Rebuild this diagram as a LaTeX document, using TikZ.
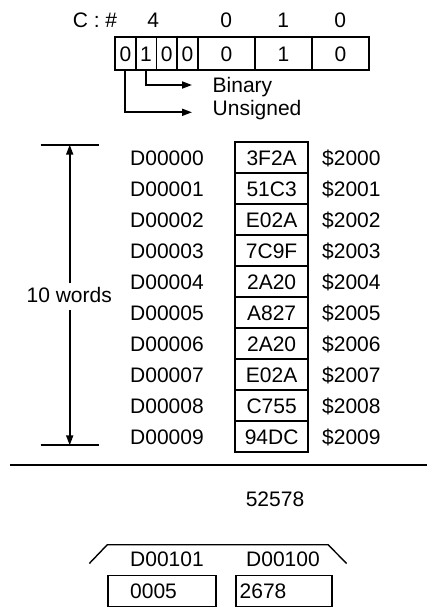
\documentclass[tikz,border=0pt]{standalone}
\usepackage{fontspec}
\setmainfont{Liberation Sans}
\usetikzlibrary{arrows.meta}
\begin{document}
\begin{tikzpicture}[x=1pt,y=-1pt,
  every node/.style={font=\fontsize{21}{25}\selectfont, inner sep=0pt, text height=15pt, text depth=0pt},
  ln/.style={line width=1.8pt},
  arr/.style={line width=1.8pt, -{Triangle[length=10pt,width=7pt]}},
  scell/.style={draw, line width=1.8pt, minimum width=20.7pt, minimum height=33pt},
  bcell/.style={draw, line width=1.8pt, minimum width=57pt, minimum height=33pt},
  mcell/.style={draw, line width=1.8pt, minimum width=72.7pt, minimum height=31.03pt},
  rbox/.style={draw, line width=1.8pt, minimum height=31pt}]
\useasboundingbox (0,0) rectangle (427,608);

% header
\node (ch) at (95,20) {C : \#};
\node (h4) at (153.3,20) {4};
\node (h0a) at (226.3,20) {0};
\node (h1) at (283.3,20) {1};
\node (h0b) at (340.3,20) {0};

% cells
\node[scell] (c0) at (125.35,53.5) {0};
\node[scell] (c1) at (146.05,53.5) {1};
\node[scell] (c2) at (166.75,53.5) {0};
\node[scell] (c3) at (187.35,53.5) {0};
\node[bcell] (c4) at (226.35,53.5) {0};
\node[bcell] (c5) at (283.35,53.5) {1};
\node[bcell] (c6) at (340.35,53.5) {0};

\coordinate (binT) at (192,85);
\coordinate (unsT) at (192,112.3);
\node[anchor=west] (bin) at (212.5,85) {Binary};
\node[anchor=west] (uns) at (212.5,107.5) {Unsigned};
\draw[arr] (c1.south) |- (binT);
\draw[arr] (c0.south) |- (unsT);

% bracket 10 words
\coordinate (tbL) at (40.7,144.7);
\coordinate (tbR) at (98.7,144.7);
\coordinate (bbL) at (40.7,445.3);
\coordinate (bbR) at (98.7,445.3);
\coordinate (tb) at (69.7,144.7);
\coordinate (bb) at (69.7,445.3);
\coordinate (wt) at (69.7,283.3);
\coordinate (wb) at (69.7,310);
\draw[ln] (tbL) -- (tbR);
\draw[ln] (bbL) -- (bbR);
\node (words) at (69.2,295) {10 words};
\draw[arr] (wt) -- (tb);
\draw[arr] (wb) -- (bb);

% memory rows
\foreach \i/\v in {0/3F2A,1/51C3,2/E02A,3/7C9F,4/2A20,5/A827,6/2A20,7/E02A,8/C755,9/94DC}{
  \node[anchor=west] (d\i) at (130,{157.5+31.03*\i}) {D0000\i};
  \node[mcell] (m\i) at (271.65,{157.5+31.03*\i}) {\v};
  \node[anchor=west] (s\i) at (322,{157.5+31.03*\i}) {\$200\i};
}

% separator
\coordinate (sl) at (10,465.3);
\coordinate (sr) at (427,465.3);
\draw[ln] (sl) -- (sr);

\node (res) at (275,499) {52578};

% bottom bracket
\coordinate (k1) at (89.3,563.5);
\coordinate (k2) at (107.3,544.7);
\coordinate (k3) at (328,544.7);
\coordinate (k4) at (346.7,563.5);
\draw[line width=1.4pt] (k1) -- (k2) -- (k3) -- (k4);
\node[anchor=west] (l101) at (130,559.3) {D00101};
\node[anchor=west] (l100) at (246,559.3) {D00100};

\node[rbox, minimum width=107.7pt] (b1) at (162.15,591) {};
\node[rbox, minimum width=95.7pt] (b2) at (283.85,591) {};
\node[anchor=west] (t1) at (130,591) {0005};
\node[anchor=west] (t2) at (239.5,591) {2678};
\end{tikzpicture}
\end{document}
